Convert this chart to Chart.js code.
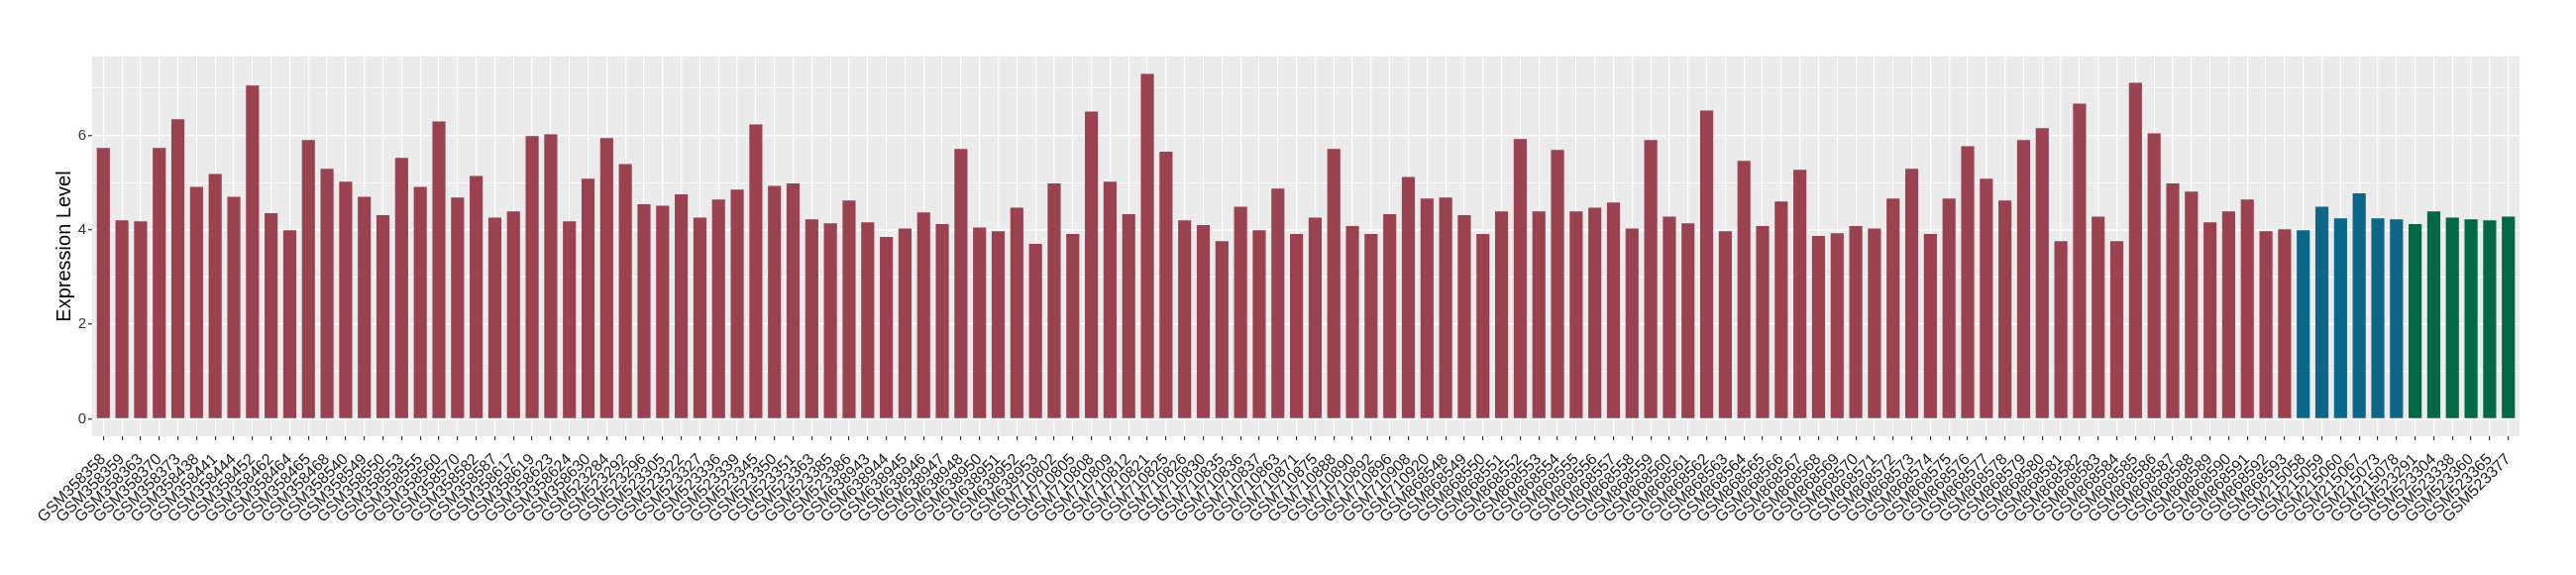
<!DOCTYPE html>
<html>
<head>
<meta charset="utf-8">
<script src="https://cdn.jsdelivr.net/npm/chart.js@4.4.1/dist/chart.umd.min.js"></script>
<style>
  html, body { margin: 0; padding: 0; background: #ffffff; }
  #wrap { width: 2600px; height: 580px; }
</style>
</head>
<body>
<div id="wrap"><canvas id="c" width="2600" height="580"></canvas></div>
<script>
// ---- Data ----
const samplesGroup1 = [
  "GSM358358","GSM358359","GSM358363","GSM358370","GSM358373","GSM358438","GSM358441","GSM358444","GSM358452","GSM358462",
  "GSM358464","GSM358465","GSM358468","GSM358540","GSM358549","GSM358550","GSM358553","GSM358555","GSM358560","GSM358570",
  "GSM358582","GSM358587","GSM358617","GSM358619","GSM358623","GSM358624","GSM358630","GSM523284","GSM523292","GSM523296",
  "GSM523305","GSM523322","GSM523327","GSM523336","GSM523339","GSM523345","GSM523350","GSM523351","GSM523363","GSM523385",
  "GSM523386","GSM638943","GSM638944","GSM638945","GSM638946","GSM638947","GSM638948","GSM638950","GSM638951","GSM638952",
  "GSM638953","GSM710802","GSM710805","GSM710808","GSM710809","GSM710812","GSM710821","GSM710825","GSM710826","GSM710830",
  "GSM710835","GSM710836","GSM710837","GSM710863","GSM710871","GSM710875","GSM710888","GSM710890","GSM710892","GSM710896",
  "GSM710908","GSM710920","GSM868548","GSM868549","GSM868550","GSM868551","GSM868552","GSM868553","GSM868554","GSM868555",
  "GSM868556","GSM868557","GSM868558","GSM868559","GSM868560","GSM868561","GSM868562","GSM868563","GSM868564","GSM868565",
  "GSM868566","GSM868567","GSM868568","GSM868569","GSM868570","GSM868571","GSM868572","GSM868573","GSM868574","GSM868575",
  "GSM868576","GSM868577","GSM868578","GSM868579","GSM868580","GSM868581","GSM868582","GSM868583","GSM868584","GSM868585",
  "GSM868586","GSM868587","GSM868588","GSM868589","GSM868590","GSM868591","GSM868592","GSM868593"
];
const valuesGroup1 = [
  5.73,4.20,4.18,5.73,6.34,4.91,5.18,4.70,7.05,4.35,
  3.99,5.90,5.29,5.02,4.70,4.31,5.52,4.91,6.29,4.68,
  5.14,4.26,4.39,5.98,6.02,4.18,5.08,5.94,5.39,4.54,
  4.51,4.75,4.26,4.64,4.85,6.23,4.93,4.98,4.22,4.14,
  4.62,4.16,3.85,4.03,4.37,4.12,5.71,4.05,3.97,4.47,
  3.70,4.98,3.91,6.50,5.02,4.33,7.30,5.65,4.20,4.10,
  3.76,4.49,3.99,4.87,3.91,4.26,5.71,4.08,3.91,4.33,
  5.12,4.66,4.68,4.31,3.91,4.39,5.92,4.39,5.69,4.39,
  4.47,4.58,4.03,5.90,4.28,4.14,6.52,3.97,5.46,4.08,
  4.60,5.27,3.87,3.93,4.08,4.03,4.66,5.29,3.91,4.66,
  5.77,5.08,4.62,5.90,6.15,3.76,6.67,4.28,3.76,7.11,
  6.04,4.98,4.81,4.16,4.39,4.64,3.97,4.01
];
const samplesGroup2 = ["GSM215058","GSM215059","GSM215060","GSM215067","GSM215073","GSM215078"];
const valuesGroup2  = [3.99,4.49,4.24,4.77,4.24,4.22];
const samplesGroup3 = ["GSM523291","GSM523304","GSM523338","GSM523360","GSM523365","GSM523377"];
const valuesGroup3  = [4.12,4.39,4.26,4.22,4.20,4.28];

const yMajorTicks = [0, 2, 4, 6];
const yMinorBreaks = [1, 3, 5, 7];
const yAxisTitle = "Expression Level";

// ---- Styles ----
const groupColors = ["#9B4251", "#0B6688", "#006845"];

const samples = samplesGroup1.concat(samplesGroup2, samplesGroup3);
const values = valuesGroup1.concat(valuesGroup2, valuesGroup3);
const colors = [].concat(
  samplesGroup1.map(() => groupColors[0]),
  samplesGroup2.map(() => groupColors[1]),
  samplesGroup3.map(() => groupColors[2])
);
const points = values.map((v, i) => ({ x: i, y: v }));
const yAllBreaks = yMajorTicks.concat(yMinorBreaks).sort((a, b) => a - b);
const isMajor = v => yMajorTicks.indexOf(v) !== -1;

const panelBg = {
  id: 'panelBg',
  beforeDraw(chart) {
    const { ctx, chartArea: a } = chart;
    ctx.save();
    ctx.fillStyle = '#EBEBEB';
    ctx.fillRect(a.left, a.top, a.right - a.left, a.bottom - a.top);
    ctx.restore();
  }
};

Chart.defaults.font.family = "'Liberation Sans', Arial, sans-serif";

new Chart(document.getElementById('c'), {
  type: 'bar',
  data: {
    datasets: [{
      data: points,
      backgroundColor: colors,
      borderWidth: 0,
      barPercentage: 0.7,
      categoryPercentage: 1.0
    }]
  },
  plugins: [panelBg],
  options: {
    responsive: false,
    animation: false,
    devicePixelRatio: 1,
    layout: { padding: { left: 0, top: 57, right: 57, bottom: 10 } },
    plugins: { legend: { display: false }, tooltip: { enabled: false } },
    scales: {
      x: {
        type: 'linear',
        min: -0.6,
        max: samples.length - 1 + 0.6,
        offset: false,
        border: { display: false },
        grid: {
          offset: false,
          color: '#FFFFFF',
          lineWidth: 1.2,
          tickColor: '#333333',
          tickLength: 4,
          tickWidth: 1.2
        },
        ticks: {
          autoSkip: false,
          maxRotation: 45,
          minRotation: 45,
          padding: 10,
          color: '#1A1A1A',
          font: { size: 16 },
          callback: v => (samples[v] !== undefined ? samples[v] : '')
        },
        afterBuildTicks: s => { s.ticks = samples.map((_, i) => ({ value: i })); },
        afterFit: s => { s.height = 130; }
      },
      y: {
        type: 'linear',
        min: -0.365,
        max: 7.665,
        border: { display: false },
        grid: {
          color: '#FFFFFF',
          lineWidth: ctx => (ctx.tick && isMajor(ctx.tick.value) ? 1.5 : 0.75),
          tickColor: ctx => (ctx.tick && isMajor(ctx.tick.value) ? '#333333' : 'rgba(0,0,0,0)'),
          tickLength: 4,
          tickWidth: 1.2
        },
        ticks: {
          padding: 2,
          color: '#333333',
          font: { size: 15 },
          callback: v => (isMajor(v) ? String(v) : '')
        },
        afterBuildTicks: s => { s.ticks = yAllBreaks.map(v => ({ value: v })); },
        title: {
          display: true,
          text: yAxisTitle,
          color: '#000000',
          font: { size: 20 },
          padding: { top: 53, bottom: 0 }
        },
        afterFit: s => { s.width = 93; }
      }
    }
  }
});
</script>
</body>
</html>
